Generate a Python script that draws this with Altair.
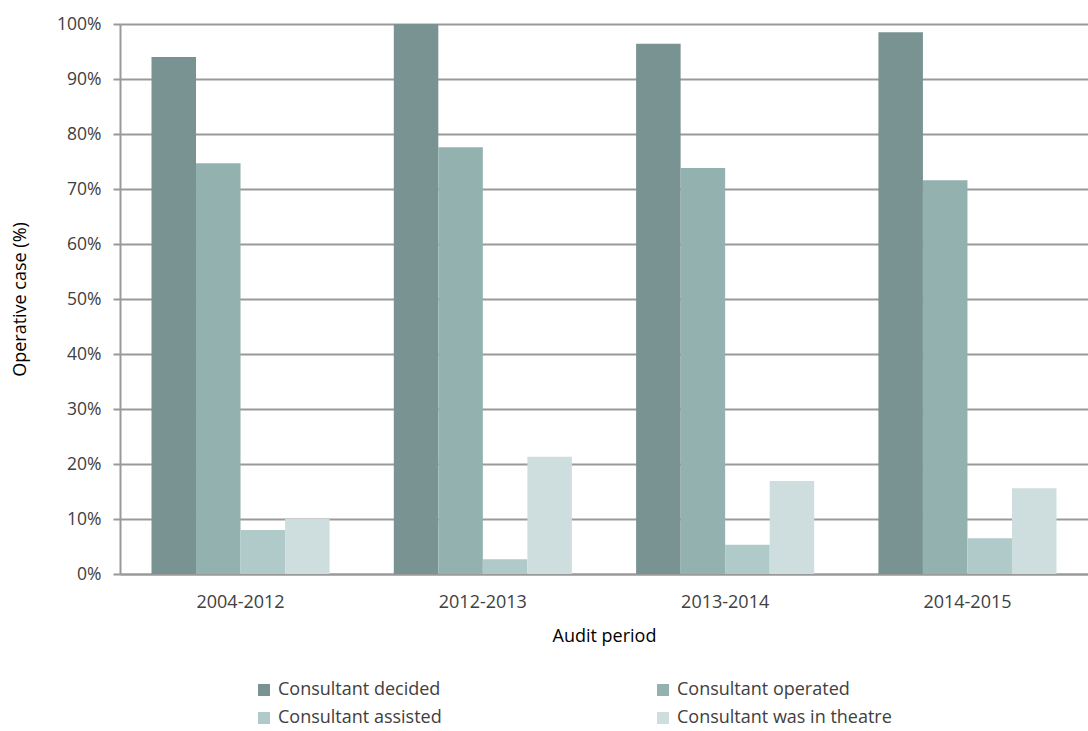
import altair as alt
import pandas as pd

periods = ["2004-2012", "2012-2013", "2013-2014", "2014-2015"]
series = ["Consultant decided", "Consultant operated", "Consultant assisted", "Consultant was in theatre"]
decided = [94.0, 100.0, 96.4, 98.5]
operated = [74.7, 77.6, 73.8, 71.6]
assisted = [8.0, 2.7, 5.3, 6.5]
theatre = [10.0, 21.3, 16.9, 15.6]
colors = ["#799392", "#92b1af", "#b0caca", "#cedede"]

rows = []
for s, vals in zip(series, [decided, operated, assisted, theatre]):
    for p, v in zip(periods, vals):
        rows.append({"period": p, "series": s, "value": v / 100.0})
df = pd.DataFrame(rows)

# legend fills column-wise, so order the domain to read row-wise like the reference
legend_order = [series[0], series[2], series[1], series[3]]
legend_colors = [colors[0], colors[2], colors[1], colors[3]]

FONT = "Open Sans"

chart = alt.Chart(df).mark_bar().encode(
    x=alt.X("period:N", sort=periods,
            scale=alt.Scale(paddingInner=0.265, paddingOuter=0.13),
            axis=alt.Axis(title="Audit period", labelAngle=0, ticks=False,
                          labelPadding=19, labelFontSize=18, labelColor="#404040",
                          labelFont=FONT, titleFont=FONT, titleFontSize=18,
                          titleFontWeight="normal", titleColor="#000000",
                          titleY=62, titleBaseline="middle",
                          domainColor="#999999", domainWidth=2, grid=False)),
    xOffset=alt.XOffset("series:N", sort=series),
    y=alt.Y("value:Q", scale=alt.Scale(domain=[0, 1], nice=False),
            axis=alt.Axis(title="Operative case (%)", format=".0%", values=[i / 10 for i in range(11)],
                          tickSize=7, tickColor="#999999", tickWidth=2,
                          labelPadding=12, labelFontSize=17.5, labelColor="#404040",
                          labelFont=FONT, titleFont=FONT, titleFontSize=18,
                          titleFontWeight="normal", titleColor="#000000",
                          titleX=-100, titleY=275, titleAngle=-90, titleAlign="center",
                          titleBaseline="middle",
                          domainColor="#999999", domainWidth=2,
                          grid=True, gridColor="#999999", gridWidth=2)),
    color=alt.Color("series:N",
                    scale=alt.Scale(domain=legend_order, range=legend_colors),
                    legend=alt.Legend(title=None, orient="none", legendX=135, legendY=657,
                                      columns=2, columnPadding=212, rowPadding=10,
                                      symbolType="square", symbolSize=144,
                                      symbolStrokeWidth=0, symbolOpacity=1,
                                      labelFont=FONT, labelFontSize=18, labelColor="#404040",
                                      labelLimit=400, labelOffset=5)),
).properties(
    width=968, height=550,
    autosize=alt.AutoSizeParams(type="none"),
    padding={"left": 120, "top": 24, "right": 0, "bottom": 157},
).configure_view(stroke=None).configure(background="white")

chart.save("out.html", embed_options={"renderer": "svg", "actions": False})
